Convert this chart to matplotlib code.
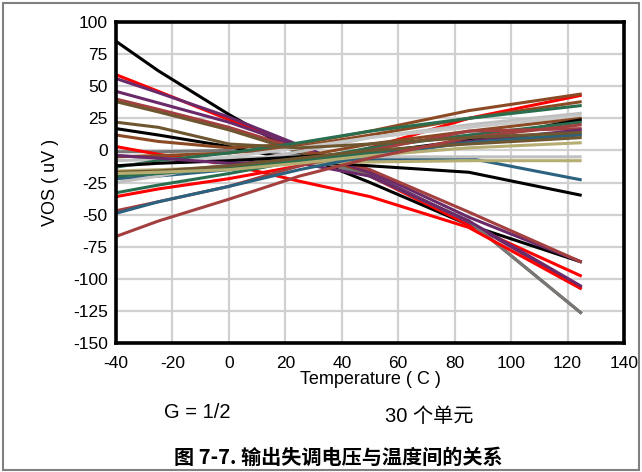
import matplotlib
matplotlib.use("Agg")
import matplotlib.pyplot as plt
from matplotlib.patches import Rectangle

plt.rcParams['font.family'] = ['Liberation Sans', 'Noto Sans CJK SC', 'DejaVu Sans']
plt.rcParams['axes.unicode_minus'] = False

temps = [-40, -25, 0, 25, 50, 85, 125]

# 30 units, VOS (uV) at each temperature
units = [
    ('#000000', [85, 62, 28, -3, -25, -58, -87]),
    ('#ff0000', [59, 46, 24, 2, -20, -58, -98]),
    ('#6a2a6a', [56, 45, 26, 4, -18, -56, -107]),
    ('#6a2a6a', [46, 37, 22, 3, -16, -52, -87]),
    ('#a3403f', [40, 32, 18, 1, -15, -48, -87]),
    ('#6e5630', [38, 30, 16, -1, -20, -55, -127]),
    ('#777777', [-1, -1, 0, -4, -20, -55, -127]),
    ('#ff0000', [3, -3, -11, -24, -36, -60, -108]),
    ('#6a2a6a', [-4, -6, -9, -10, -20, -55, -106]),
    ('#000000', [17, 12, 3, -8, -12, -17, -35]),
    ('#2b6280', [-22, -20, -15, -9, -7, -6, -23]),
    ('#c0c0c0', [-8, -7, -6, -5, -5, -5, -5]),
    ('#b5ad72', [-16, -15, -13, -10, -9, -8, -8]),
    ('#ff0000', [-36, -30, -22, -12, 2, 25, 43]),
    ('#8b4a24', [12, 7, 2, 5, 15, 31, 44]),
    ('#8b4a24', [-5, -4, -2, 3, 12, 25, 38]),
    ('#2a6e50', [-13, -8, -2, 6, 15, 25, 35]),
    ('#c0c0c0', [-25, -20, -10, -1, 10, 20, 29]),
    ('#c8c8c8', [-12, -10, -5, 2, 10, 18, 27]),
    ('#8b4a24', [-19, -17, -12, -5, 5, 15, 25]),
    ('#000000', [-12, -10, -8, -5, -2, 8, 24]),
    ('#2a6e50', [-33, -27, -18, -8, 2, 12, 22]),
    ('#a3403f', [-47, -40, -28, -12, 0, 15, 17]),
    ('#6a2a6a', [-4, -6, -10, -9, -2, 7, 16]),
    ('#2a6e50', [-20, -18, -14, -8, -2, 6, 13]),
    ('#2b6280', [-49, -40, -28, -15, -4, 6, 12]),
    ('#6e5630', [-17, -16, -12, -6, 0, 5, 10]),
    ('#b5ad72', [-18, -17, -15, -10, -4, 2, 6]),
    ('#a3403f', [-67, -55, -38, -20, -6, 10, 20]),
    ('#6e5630', [22, 18, 5, 2, 5, 10, 14]),
]

xticks = list(range(-40, 141, 20))
yticks = list(range(-150, 101, 25))

fig = plt.figure(figsize=(6.42, 4.72), dpi=100)
fig.patches.append(Rectangle((0.005, 0.004), 0.99, 0.99, transform=fig.transFigure,
                             fill=False, edgecolor='#808080', linewidth=1.5))

ax = fig.add_axes([0.1807, 0.2733, 0.7913, 0.68])
for color, vals in units:
    ax.plot(temps, vals, color=color, linewidth=2.2, solid_capstyle='butt')

ax.set_xlim(-40, 140)
ax.set_ylim(-150, 100)
ax.set_xticks(xticks)
ax.set_yticks(yticks)
ax.grid(color='#d0d0d0', linewidth=1.6)
ax.set_axisbelow(True)
ax.tick_params(length=0, labelsize=12.5)
ax.tick_params(axis='x', pad=9)
ax.tick_params(axis='y', pad=6)
for s in ax.spines.values():
    s.set_linewidth(2.6)
    s.set_color('black')

ax.set_xlabel('Temperature ( C )', fontsize=13, labelpad=0)
ax.set_ylabel('VOS ( uV )', fontsize=13, labelpad=10)

fig.text(197 / 642, 1 - 413 / 472, 'G = 1/2', fontsize=14.5, ha='center', va='center')
fig.text(429 / 642, 1 - 416 / 472, '30 个单元', fontsize=14.5, ha='center', va='center')
fig.text(338 / 642, 1 - 457 / 472, '图 7-7. 输出失调电压与温度间的关系', fontsize=14.5,
         fontweight='bold', ha='center', va='center',
         family=['Noto Sans CJK SC', 'Liberation Sans'])

fig.savefig('out.png', dpi=100)
